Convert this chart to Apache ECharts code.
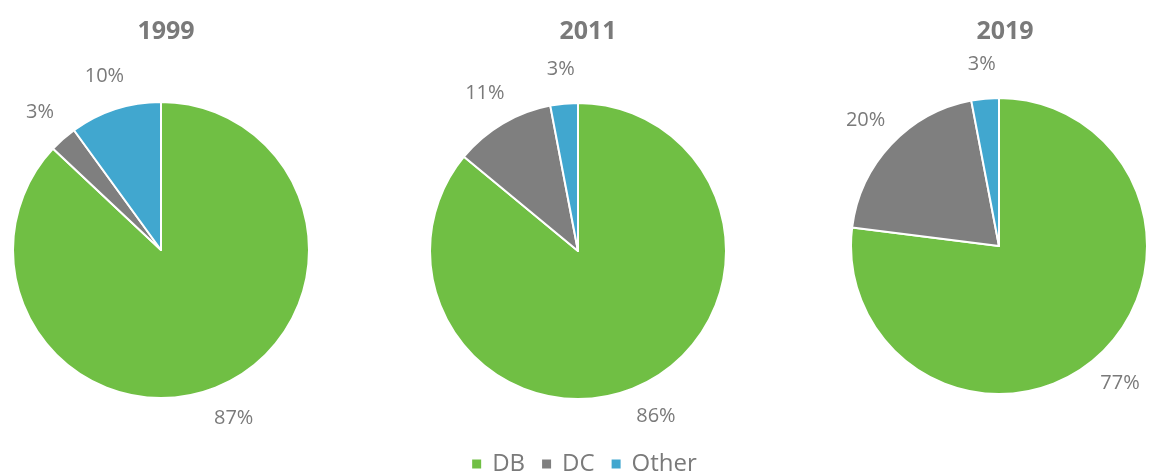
<!DOCTYPE html>
<html>
<head>
<meta charset="utf-8">
<script src="https://cdn.jsdelivr.net/npm/echarts@6/dist/echarts.min.js"></script>
<style>
  html, body { margin: 0; padding: 0; background: #ffffff; }
  #chart { width: 1167px; height: 475px; }
</style>
</head>
<body>
<div id="chart"></div>
<script>
// 数据
const years = ['1999', '2011', '2019'];
const categories = ['DB', 'DC', 'Other'];
const share1999 = [87, 3, 10];
const share2011 = [86, 11, 3];
const share2019 = [77, 20, 3];

const colors = ['#70bf44', '#7f7f7f', '#41a7cf'];
const textGray = '#7a7a7a';
const fontFamily = '"Open Sans", sans-serif';

// 每个饼图的位置
const pieCenters = [[161, 250], [578, 251], [999, 246]];
const titleX = [161, 583, 1000];
const pieRadius = 148;

const chart = echarts.init(document.getElementById('chart'));

const toItems = (values) => values.map((v, i) => ({ name: categories[i], value: v }));

const allShares = [share1999, share2011, share2019];

const series = [];
// 饼图本体
allShares.forEach((values, idx) => {
  series.push({
    type: 'pie',
    center: pieCenters[idx],
    radius: [0, pieRadius],
    startAngle: 90,
    clockwise: true,
    animation: false,
    color: colors,
    itemStyle: { borderColor: '#ffffff', borderWidth: 2 },
    label: { show: false },
    labelLine: { show: false },
    emphasis: { disabled: true },
    data: toItems(values),
  });
});
// 透明外环，用来放百分比标签
allShares.forEach((values, idx) => {
  series.push({
    type: 'pie',
    center: pieCenters[idx],
    radius: [pieRadius, pieRadius + 64],
    startAngle: 90,
    clockwise: true,
    animation: false,
    silent: true,
    itemStyle: { color: 'rgba(0,0,0,0)' },
    label: {
      show: true,
      position: 'inside',
      formatter: '{c}%',
      color: textGray,
      fontSize: 20,
      fontFamily: fontFamily,
    },
    labelLine: { show: false },
    emphasis: { disabled: true },
    data: toItems(values),
  });
});

const option = {
  backgroundColor: '#ffffff',
  title: years.map((y, idx) => ({
    text: y,
    left: titleX[idx],
    top: 14,
    textAlign: 'center',
    textStyle: {
      color: textGray,
      fontSize: 25,
      fontWeight: 'bold',
      fontFamily: fontFamily,
    },
  })),
  legend: {
    data: categories.map((c, i) => ({ name: c, itemStyle: { color: colors[i] } })),
    left: 'center',
    top: 447,
    icon: 'rect',
    itemWidth: 11,
    itemHeight: 11,
    itemGap: 15,
    selectedMode: false,
    textStyle: {
      color: textGray,
      fontSize: 24,
      fontFamily: fontFamily,
      padding: [0, 0, 0, 5],
    },
  },
  series: series,
};

chart.setOption(option);
window.addEventListener('resize', () => chart.resize());
</script>
</body>
</html>
